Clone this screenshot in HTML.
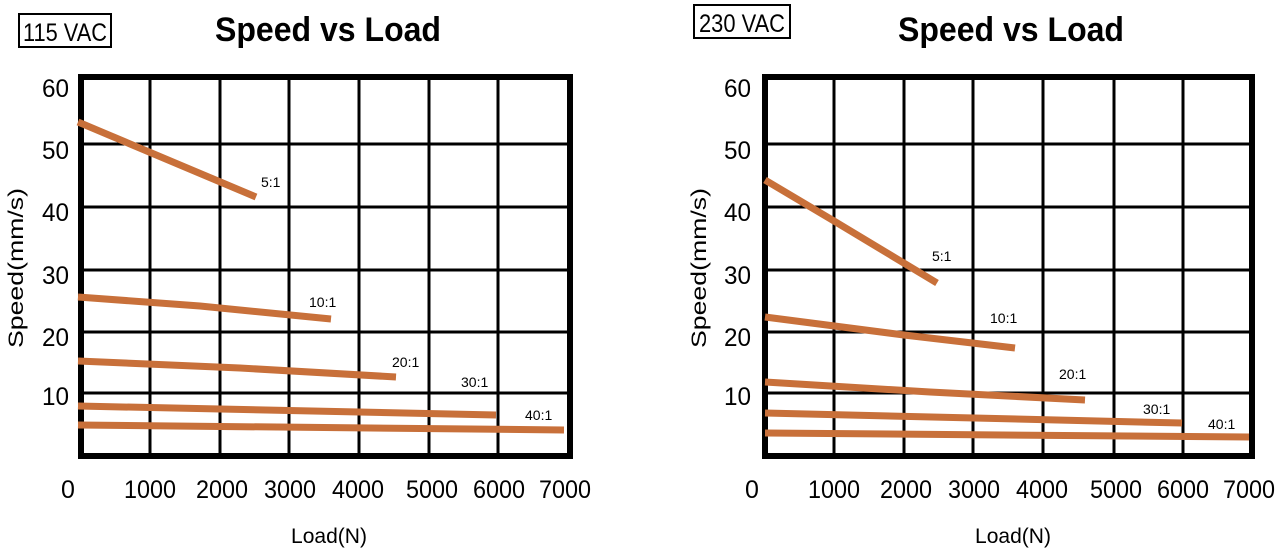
<!DOCTYPE html>
<html><head><meta charset="utf-8"><style>
html,body{margin:0;padding:0;background:#fff;}
svg{display:block;}
text{font-family:"Liberation Sans",sans-serif;fill:#000;}
</style></head><body>
<svg width="1276" height="553" viewBox="0 0 1276 553" xmlns="http://www.w3.org/2000/svg">
<!-- LEFT CHART -->
<rect x="19" y="14" width="92" height="33" fill="none" stroke="#000" stroke-width="2"/>
<text x="65" y="41" font-size="25" text-anchor="middle" textLength="84" lengthAdjust="spacingAndGlyphs">115 VAC</text>
<text x="328" y="41" font-size="34" font-weight="bold" text-anchor="middle" textLength="226" lengthAdjust="spacingAndGlyphs">Speed vs Load</text>
<g stroke="#000" stroke-width="3">
<line x1="150" y1="77" x2="150" y2="456"/><line x1="220" y1="77" x2="220" y2="456"/><line x1="289" y1="77" x2="289" y2="456"/><line x1="359" y1="77" x2="359" y2="456"/><line x1="429" y1="77" x2="429" y2="456"/><line x1="498" y1="77" x2="498" y2="456"/>
<line x1="81" y1="144" x2="570" y2="144"/><line x1="81" y1="207" x2="570" y2="207"/><line x1="81" y1="270" x2="570" y2="270"/><line x1="81" y1="332" x2="570" y2="332"/><line x1="81" y1="393" x2="570" y2="393"/>
</g>
<rect x="81" y="77" width="489" height="379" fill="none" stroke="#000" stroke-width="6"/>
<g stroke="#c8703a" stroke-width="7" stroke-linecap="butt">
<line x1="78" y1="122" x2="256" y2="197"/>
<polyline fill="none" points="78,297 200,306 331,319"/>
<polyline fill="none" points="78,361 240,368 396,377"/>
<line x1="78" y1="406" x2="496" y2="415"/>
<line x1="78" y1="425" x2="564" y2="430"/>
</g>
<g font-size="14">
<text x="261" y="187">5:1</text><text x="309" y="307">10:1</text><text x="392" y="367">20:1</text><text x="461" y="387">30:1</text><text x="525" y="420">40:1</text>
</g>
<g font-size="25" text-anchor="end">
<text x="69" y="97" textLength="27" lengthAdjust="spacingAndGlyphs">60</text>
<text x="69" y="159" textLength="27" lengthAdjust="spacingAndGlyphs">50</text>
<text x="69" y="221" textLength="27" lengthAdjust="spacingAndGlyphs">40</text>
<text x="69" y="284" textLength="27" lengthAdjust="spacingAndGlyphs">30</text>
<text x="69" y="346" textLength="27" lengthAdjust="spacingAndGlyphs">20</text>
<text x="69" y="405" textLength="27" lengthAdjust="spacingAndGlyphs">10</text>
</g>
<g font-size="25" text-anchor="middle">
<text x="68" y="498">0</text>
<text x="150" y="498" textLength="52" lengthAdjust="spacingAndGlyphs">1000</text>
<text x="222" y="498" textLength="52" lengthAdjust="spacingAndGlyphs">2000</text>
<text x="290" y="498" textLength="52" lengthAdjust="spacingAndGlyphs">3000</text>
<text x="358" y="498" textLength="52" lengthAdjust="spacingAndGlyphs">4000</text>
<text x="432" y="498" textLength="52" lengthAdjust="spacingAndGlyphs">5000</text>
<text x="499" y="498" textLength="52" lengthAdjust="spacingAndGlyphs">6000</text>
<text x="565" y="498" textLength="52" lengthAdjust="spacingAndGlyphs">7000</text>
</g>
<text x="329" y="543" font-size="21" text-anchor="middle" textLength="76" lengthAdjust="spacingAndGlyphs">Load(N)</text>
<text transform="translate(23,268) rotate(-90)" font-size="21" text-anchor="middle" textLength="160" lengthAdjust="spacingAndGlyphs">Speed(mm/s)</text>

<!-- RIGHT CHART -->
<rect x="694" y="5" width="96" height="33" fill="none" stroke="#000" stroke-width="2"/>
<text x="742" y="32" font-size="25" text-anchor="middle" textLength="86" lengthAdjust="spacingAndGlyphs">230 VAC</text>
<text x="1011" y="41" font-size="34" font-weight="bold" text-anchor="middle" textLength="226" lengthAdjust="spacingAndGlyphs">Speed vs Load</text>
<g stroke="#000" stroke-width="3">
<line x1="834" y1="77" x2="834" y2="456"/><line x1="904" y1="77" x2="904" y2="456"/><line x1="973" y1="77" x2="973" y2="456"/><line x1="1043" y1="77" x2="1043" y2="456"/><line x1="1114" y1="77" x2="1114" y2="456"/><line x1="1183" y1="77" x2="1183" y2="456"/>
<line x1="765" y1="144" x2="1252" y2="144"/><line x1="765" y1="207" x2="1252" y2="207"/><line x1="765" y1="270" x2="1252" y2="270"/><line x1="765" y1="332" x2="1252" y2="332"/><line x1="765" y1="393" x2="1252" y2="393"/>
</g>
<rect x="765" y="77" width="487" height="379" fill="none" stroke="#000" stroke-width="6"/>
<g stroke="#c8703a" stroke-width="7" stroke-linecap="butt">
<polyline fill="none" points="765,180 834,221 937,283"/>
<polyline fill="none" points="765,317 904,335 1015,348"/>
<polyline fill="none" points="765,382 930,392 1085,400"/>
<line x1="765" y1="413" x2="1182" y2="423"/>
<line x1="765" y1="433" x2="1249" y2="437"/>
</g>
<g font-size="14">
<text x="932" y="261">5:1</text><text x="990" y="323">10:1</text><text x="1059" y="379">20:1</text><text x="1143" y="414">30:1</text><text x="1208" y="429">40:1</text>
</g>
<g font-size="25" text-anchor="end">
<text x="751" y="97" textLength="27" lengthAdjust="spacingAndGlyphs">60</text>
<text x="751" y="159" textLength="27" lengthAdjust="spacingAndGlyphs">50</text>
<text x="751" y="221" textLength="27" lengthAdjust="spacingAndGlyphs">40</text>
<text x="751" y="284" textLength="27" lengthAdjust="spacingAndGlyphs">30</text>
<text x="751" y="346" textLength="27" lengthAdjust="spacingAndGlyphs">20</text>
<text x="751" y="405" textLength="27" lengthAdjust="spacingAndGlyphs">10</text>
</g>
<g font-size="25" text-anchor="middle">
<text x="752" y="498">0</text>
<text x="834" y="498" textLength="52" lengthAdjust="spacingAndGlyphs">1000</text>
<text x="906" y="498" textLength="52" lengthAdjust="spacingAndGlyphs">2000</text>
<text x="974" y="498" textLength="52" lengthAdjust="spacingAndGlyphs">3000</text>
<text x="1042" y="498" textLength="52" lengthAdjust="spacingAndGlyphs">4000</text>
<text x="1116" y="498" textLength="52" lengthAdjust="spacingAndGlyphs">5000</text>
<text x="1183" y="498" textLength="52" lengthAdjust="spacingAndGlyphs">6000</text>
<text x="1249" y="498" textLength="52" lengthAdjust="spacingAndGlyphs">7000</text>
</g>
<text x="1013" y="543" font-size="21" text-anchor="middle" textLength="76" lengthAdjust="spacingAndGlyphs">Load(N)</text>
<text transform="translate(706,268) rotate(-90)" font-size="21" text-anchor="middle" textLength="160" lengthAdjust="spacingAndGlyphs">Speed(mm/s)</text>
</svg>
</body></html>
